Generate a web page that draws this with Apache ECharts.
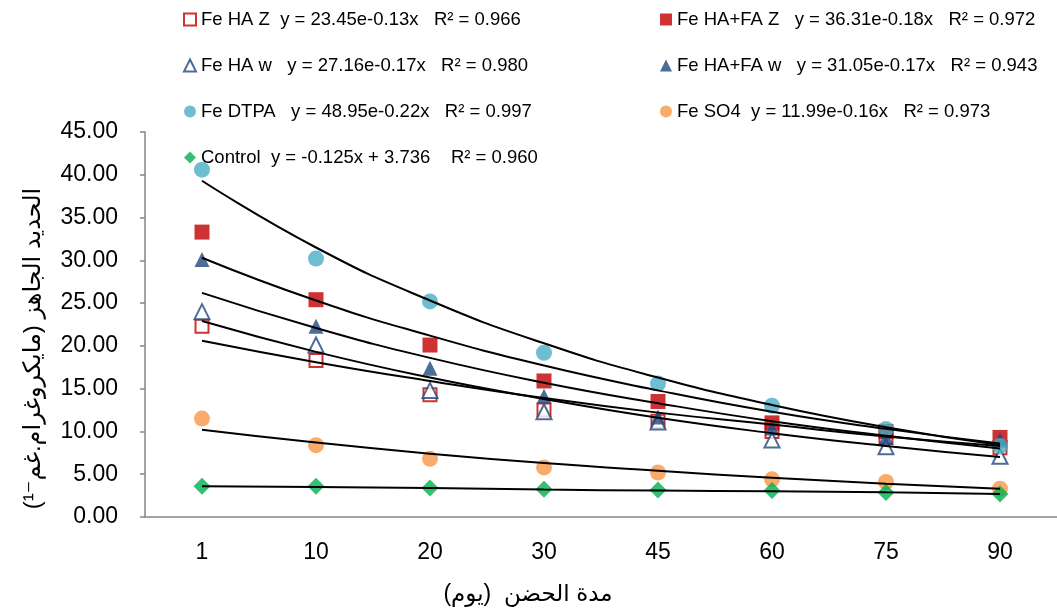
<!DOCTYPE html>
<html>
<head>
<meta charset="utf-8">
<script src="https://cdn.jsdelivr.net/npm/echarts@6/dist/echarts.min.js"></script>
<style>
  html, body { margin: 0; padding: 0; background: #fff; }
  #main { width: 1057px; height: 612px; }
</style>
</head>
<body>
<div id="main"></div>
<script>
// مدة الحضن (يوم)
var days = ['1', '10', '20', '30', '45', '60', '75', '90'];

// measured points
var feHAZ    = [22.3, 18.3, 14.3, 12.5, 11.2, 10.0, 9.3, 8.1];
var feHAFAZ  = [33.3, 25.4, 20.1, 15.9, 13.5, 11.0, 10.0, 9.3];
var feHAw    = [24.0, 20.1, 14.8, 12.3, 11.1, 9.0, 8.2, 7.1];
var feHAFAw  = [30.1, 22.3, 17.4, 14.1, 11.7, 10.4, 9.3, 9.0];
var feDTPA   = [40.6, 30.2, 25.2, 19.2, 15.6, 13.0, 10.3, 8.3];
var feSO4    = [11.5, 8.4, 6.8, 5.8, 5.2, 4.4, 4.1, 3.3];
var control  = [3.6, 3.6, 3.4, 3.25, 3.15, 3.1, 2.85, 2.7];

// trendlines
var trHAZ    = [20.6, 18.1, 15.9, 13.9, 12.2, 10.8, 9.4, 8.3];
var trHAFAZ  = [30.3, 25.3, 21.2, 17.7, 14.8, 12.3, 10.3, 8.6];
var trHAw    = [22.9, 19.3, 16.3, 13.8, 11.6, 9.8, 8.3, 7.0];
var trHAFAw  = [26.2, 22.1, 18.6, 15.7, 13.3, 11.2, 9.5, 8.0];
var trDTPA   = [39.3, 31.5, 25.3, 20.3, 16.3, 13.1, 10.5, 8.4];
var trSO4    = [10.2, 8.7, 7.4, 6.3, 5.4, 4.6, 3.9, 3.3];
var trControl = [3.6, 3.5, 3.4, 3.2, 3.1, 3.0, 2.9, 2.7];

// legend texts
var equations = {
    'Fe HA Z': 'Fe HA Z  y = 23.45e-0.13x   R² = 0.966',
    'Fe HA+FA Z': 'Fe HA+FA Z   y = 36.31e-0.18x   R² = 0.972',
    'Fe HA w': 'Fe HA w   y = 27.16e-0.17x   R² = 0.980',
    'Fe HA+FA w': 'Fe HA+FA w   y = 31.05e-0.17x   R² = 0.943',
    'Fe DTPA': 'Fe DTPA   y = 48.95e-0.22x   R² = 0.997',
    'Fe SO4': 'Fe SO4  y = 11.99e-0.16x   R² = 0.973',
    'Control': 'Control  y = -0.125x + 3.736    R² = 0.960'
};

var FONT = 'Liberation Sans, DejaVu Sans, Arial, sans-serif';

function pts(name, data, symbol, size, fill, stroke) {
    return {
        name: name,
        type: 'scatter',
        data: data,
        symbol: symbol,
        symbolSize: size,
        z: 2,
        itemStyle: stroke ? { color: '#fff', borderColor: stroke, borderWidth: 2 } : { color: fill }
    };
}

function trend(data) {
    return {
        name: 'trend',
        type: 'line',
        data: data,
        smooth: true,
        symbol: 'none',
        silent: true,
        z: 5,
        lineStyle: { color: '#000', width: 2 }
    };
}

var myChart = echarts.init(document.getElementById('main'));

var legendText = { fontSize: 18.5, color: '#000', fontFamily: FONT };

var option = {
    backgroundColor: '#fff',
    animation: false,
    textStyle: { fontFamily: FONT },
    legend: [
        {
            data: ['Fe HA Z', 'Fe HA w', 'Fe DTPA', 'Control'],
            orient: 'vertical',
            left: 178,
            top: 5,
            itemWidth: 12,
            itemHeight: 12,
            itemGap: 27,
            formatter: function (n) { return equations[n]; },
            textStyle: legendText
        },
        {
            data: ['Fe HA+FA Z', 'Fe HA+FA w', 'Fe SO4'],
            orient: 'vertical',
            left: 655,
            top: 5,
            itemWidth: 12,
            itemHeight: 12,
            itemGap: 27,
            formatter: function (n) { return equations[n]; },
            textStyle: legendText
        }
    ],
    grid: { left: 145, right: -5, top: 132, bottom: 95 },
    xAxis: {
        type: 'category',
        data: days,
        boundaryGap: true,
        name: 'مدة الحضن  (يوم)\u200F',
        nameLocation: 'middle',
        nameGap: 66,
        nameTextStyle: { fontSize: 23, color: '#000', fontFamily: FONT, padding: [0, 146, 0, 0] },
        axisLine: { lineStyle: { color: '#868686', width: 1.5 } },
        axisTick: { length: 7, lineStyle: { color: '#868686', width: 1.5 } },
        axisLabel: { fontSize: 23, color: '#000', margin: 24 },
        splitLine: { show: false }
    },
    yAxis: {
        type: 'value',
        min: 0,
        max: 45,
        interval: 5,
        name: 'الحديد الجاهز (مايكروغرام.غم⁻¹)\u200F',
        nameLocation: 'middle',
        nameGap: 100,
        nameTextStyle: { fontSize: 24, color: '#000', fontFamily: FONT, padding: [0, 48, 0, 0] },
        axisLine: { show: true, lineStyle: { color: '#868686', width: 1.5 } },
        axisTick: { show: true, length: 5, lineStyle: { color: '#868686', width: 1.5 } },
        axisLabel: {
            fontSize: 23,
            color: '#000',
            margin: 27,
            formatter: function (v) { return v.toFixed(2); }
        },
        splitLine: { show: false }
    },
    series: [
        pts('Fe HA Z', feHAZ, 'rect', 13, null, '#C00000'),
        pts('Fe HA+FA Z', feHAFAZ, 'rect', 15, '#C00000'),
        pts('Fe HA w', feHAw, 'triangle', 15, null, '#1F497D'),
        pts('Fe HA+FA w', feHAFAw, 'triangle', 15, '#1F497D'),
        pts('Fe DTPA', feDTPA, 'circle', 16, '#4BACC6'),
        pts('Fe SO4', feSO4, 'circle', 16, '#F79646'),
        pts('Control', control, 'diamond', 17, '#00B050'),
        trend(trHAZ),
        trend(trHAFAZ),
        trend(trHAw),
        trend(trHAFAw),
        trend(trDTPA),
        trend(trSO4),
        trend(trControl)
    ]
};

myChart.setOption(option);
</script>
</body>
</html>
